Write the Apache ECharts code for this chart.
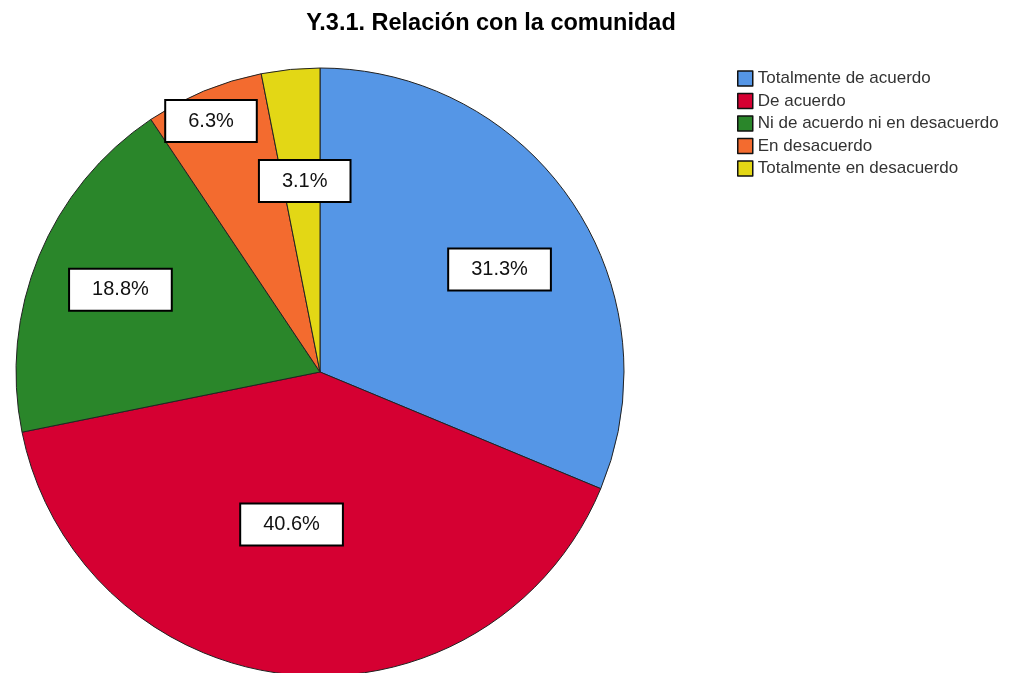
<!DOCTYPE html>
<html>
<head>
<meta charset="utf-8">
<script src="https://cdn.jsdelivr.net/npm/echarts@6/dist/echarts.min.js"></script>
<style>
  html, body { margin: 0; padding: 0; background: #fff; }
  #chart { width: 1011px; height: 673px; }
</style>
</head>
<body>
<div id="chart"></div>
<script>
// categorías y porcentajes
const categories = [
  'Totalmente de acuerdo',
  'De acuerdo',
  'Ni de acuerdo ni en desacuerdo',
  'En desacuerdo',
  'Totalmente en desacuerdo'
]
const percents = [31.3, 40.6, 18.8, 6.3, 3.1]
const colors = ['#5596e6', '#d50032', '#2a862a', '#f36b2f', '#e3d715']

// posición de las etiquetas (fracción del radio, desplazamiento angular)
const labelRadius = [0.68, 0.51, 0.71, 0.9, 0.63]
const labelShift = [4, 5, 0, -1, 1]

const cx = 320, cy = 372, r = 304

const total = percents.reduce((a, b) => a + b, 0)
const midAngles = []
let acc = 0
percents.forEach(p => {
  midAngles.push((acc + p / 2) / total * 360)
  acc += p
})

const chart = echarts.init(document.getElementById('chart'))

chart.setOption({
  animation: false,
  title: {
    text: 'Y.3.1. Relación con la comunidad',
    left: 486,
    textAlign: 'center',
    top: 7,
    textStyle: { fontFamily: 'Liberation Sans', fontSize: 23.5, fontWeight: 'bold', color: '#000' }
  },
  legend: {
    orient: 'vertical',
    left: 732,
    top: 65,
    itemWidth: 15,
    itemHeight: 15,
    itemGap: 5.5,
    icon: 'rect',
    itemStyle: { borderColor: '#111', borderWidth: 1.5 },
    textStyle: { fontFamily: 'Liberation Sans', fontSize: 17, color: '#333' },
    data: categories
  },
  series: [{
    type: 'pie',
    center: [cx, cy],
    radius: r,
    startAngle: 90,
    clockwise: true,
    silent: true,
    itemStyle: { borderColor: '#222', borderWidth: 1 },
    label: {
      show: true,
      position: 'inside',
      formatter: p => p.value.toFixed(1) + '%',
      fontFamily: 'Liberation Sans',
      fontSize: 20,
      color: '#111',
      backgroundColor: '#fff',
      borderColor: '#000',
      borderWidth: 2,
      padding: [10, 22, 10, 22]
    },
    labelLine: { show: false },
    labelLayout: params => {
      const i = params.dataIndex
      const a = (midAngles[i] + labelShift[i]) * Math.PI / 180
      const f = labelRadius[i] * r
      return {
        x: cx + f * Math.sin(a),
        y: cy - f * Math.cos(a),
        align: 'center',
        verticalAlign: 'middle'
      }
    },
    data: categories.map((name, i) => ({
      name,
      value: percents[i],
      itemStyle: { color: colors[i] }
    }))
  }]
})
</script>
</body>
</html>
